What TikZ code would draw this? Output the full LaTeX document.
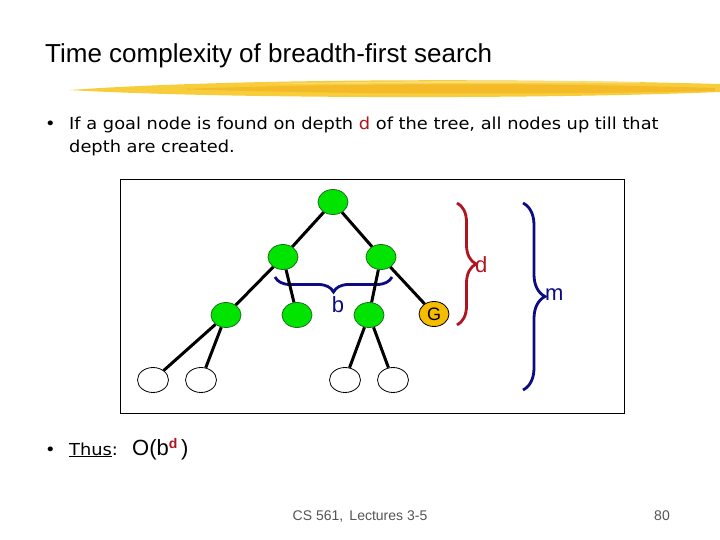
\documentclass[tikz,border=0pt]{standalone}
\usepackage{fontspec}
\setmainfont{Liberation Sans}
\newfontfamily\bodyfont[FakeStretch=1.08]{DejaVu Sans}
\usetikzlibrary{shapes.geometric,decorations.pathreplacing}
\usepackage{xcolor}
\newcommand{\slidewidth}{720}
\newcommand{\slideheight}{540}
\definecolor{titlecolor}{HTML}{000000}
\definecolor{brushyellow}{HTML}{F7CD3C}
\definecolor{brushorange}{HTML}{F2AE1A}
\definecolor{nodegreen}{HTML}{00E400}
\definecolor{nodeline}{HTML}{1E6E1E}
\definecolor{goalgold}{HTML}{F5BC00}
\definecolor{depthred}{HTML}{B0141E}
\definecolor{bracenavy}{HTML}{0C0C82}
\definecolor{footergray}{HTML}{555555}

\tikzset{
  opennode/.style={ellipse, draw=nodeline, fill=nodegreen, line width=0.8pt,
    minimum width=30pt, minimum height=25pt, inner sep=0pt},
  leafnode/.style={ellipse, draw=black, fill=white, line width=0.8pt,
    minimum width=31pt, minimum height=25pt, inner sep=0pt},
  goalnode/.style={opennode, fill=goalgold, draw=black},
  treeedge/.style={line width=3pt, black},
  bracestroke/.style={line width=2.8pt, decorate},
}

\begin{document}
\begin{tikzpicture}[x=1pt, y=-1pt]
  \useasboundingbox (0,0) rectangle (\slidewidth, \slideheight);
  \fill[white] (0,0) rectangle (\slidewidth, \slideheight);

  % === TITLE ===
  \node[anchor=base west, inner sep=0pt, font=\fontsize{26}{30}\selectfont\color{titlecolor}]
    (title) at (45, 63) {Time complexity of breadth-first search};

  % brush stroke under the title
  \fill[brushyellow] (70,90) .. controls (180,82) and (420,76) .. (720,84)
    -- (720,92) .. controls (520,100) and (200,98) .. (70,90) -- cycle;
  \fill[brushorange, opacity=0.6] (180,89) .. controls (320,84) and (520,82) .. (715,88)
    -- (715,91) .. controls (520,95) and (320,94) .. (180,89) -- cycle;
  \fill[brushyellow!60!white, opacity=0.8] (260,84) .. controls (380,81) and (520,80) .. (640,82)
    -- (640,83.5) .. controls (520,82.5) and (380,83.5) .. (260,84) -- cycle;

  % === BULLET TEXT ===
  \node[anchor=base west, inner sep=0pt, font=\bodyfont\fontsize{16.5}{20}\selectfont]
    (bullet1) at (45, 130) {\textbullet};
  \node[anchor=base west, inner sep=0pt, font=\bodyfont\fontsize{16.5}{20}\selectfont]
    (line1) at (69, 130) {If a goal node is found on depth \textcolor{depthred}{d} of the tree, all nodes up till that};
  \node[anchor=base west, inner sep=0pt, font=\bodyfont\fontsize{16.5}{20}\selectfont]
    (line2) at (69, 153) {depth are created.};

  % === TREE PANEL ===
  \draw[black, line width=1pt] (120,180) rectangle (624,413);

  \node[opennode] (root) at (333,202) {};
  \node[opennode] (nl) at (283,257) {};
  \node[opennode] (nr) at (381,257) {};
  \node[opennode] (nll) at (226,315) {};
  \node[opennode] (nlr) at (297,315) {};
  \node[opennode] (nrl) at (369,315) {};
  \node[goalnode, font=\fontsize{18}{20}\selectfont] (goal) at (434,314) {G};
  \node[leafnode] (leaf1) at (153,380) {};
  \node[leafnode] (leaf2) at (201,380) {};
  \node[leafnode] (leaf3) at (345,380) {};
  \node[leafnode] (leaf4) at (393,380) {};

  % branching brace
  \coordinate (bright) at (392,277);
  \coordinate (bleft) at (275,277);
  \draw[bracenavy, bracestroke, decoration={brace, amplitude=15pt}] (bright) -- (bleft);
  \node[bracenavy, font=\fontsize{22}{24}\selectfont] (blabel) at (338,305) {b};

  % edges
  \draw[treeedge] (root) -- (nl);
  \draw[treeedge] (root) -- (nr);
  \draw[treeedge] (nl) -- (nll);
  \draw[treeedge] (nl) -- (nlr);
  \draw[treeedge] (nr) -- (nrl);
  \draw[treeedge] (nr) -- (goal);
  \draw[treeedge] (nll) -- (leaf1);
  \draw[treeedge] (nll) -- (leaf2);
  \draw[treeedge] (nrl) -- (leaf3);
  \draw[treeedge] (nrl) -- (leaf4);

  % depth braces
  \coordinate (dtop) at (457,203);
  \coordinate (dbot) at (457,325);
  \draw[depthred, bracestroke, decoration={brace, amplitude=19pt}] (dtop) -- (dbot);
  \node[depthred, anchor=west, inner sep=0pt, font=\fontsize{22}{24}\selectfont] (dlabel) at (475,265) {d};

  \coordinate (mtop) at (523,203);
  \coordinate (mbot) at (523,390);
  \draw[bracenavy, bracestroke, decoration={brace, amplitude=22pt}] (mtop) -- (mbot);
  \node[bracenavy, anchor=west, inner sep=0pt, font=\fontsize{22}{24}\selectfont] (mlabel) at (545,295) {m};

  % === CONCLUSION ===
  \node[anchor=base west, inner sep=0pt, font=\bodyfont\fontsize{16.5}{20}\selectfont]
    (bullet2) at (45, 455) {\textbullet};
  \node[anchor=base west, inner sep=0pt, font=\bodyfont\fontsize{16.5}{20}\selectfont]
    (thus) at (69, 455) {\underline{Thus}:};
  \node[anchor=base west, inner sep=0pt, font=\fontsize{22}{24}\selectfont]
    (order) at (132, 455) {O(b\raisebox{7pt}{\fontsize{14}{16}\selectfont\bfseries\textcolor{depthred}{d}}\,)};

  % === FOOTER ===
  \node[anchor=base, inner sep=0pt, font=\fontsize{14}{16}\selectfont\color{footergray}]
    (course) at (360, 520) {CS 561,\, Lectures 3-5};
  \node[anchor=base, inner sep=0pt, font=\fontsize{14}{16}\selectfont\color{footergray}]
    (pageno) at (662, 520) {80};
\end{tikzpicture}
\end{document}
